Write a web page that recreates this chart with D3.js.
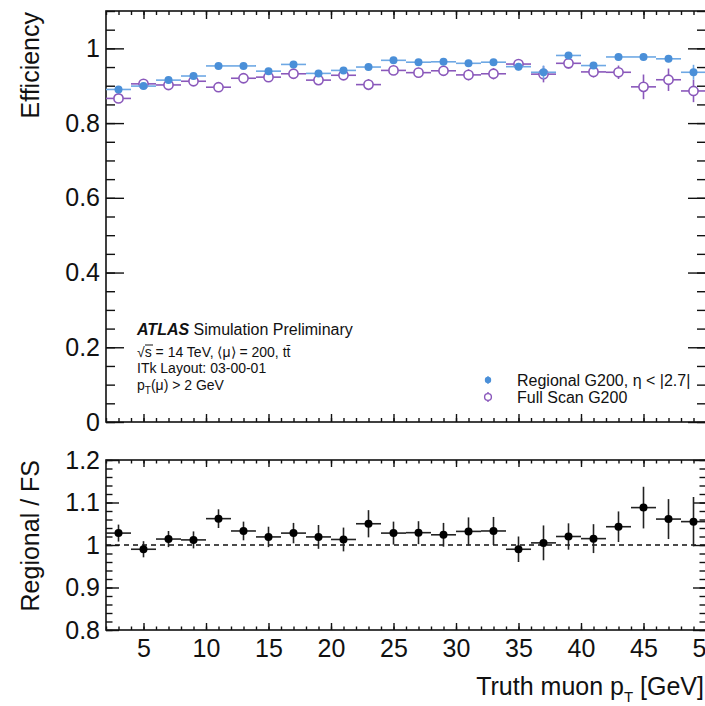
<!DOCTYPE html>
<html>
<head>
<meta charset="utf-8">
<script src="https://cdn.jsdelivr.net/npm/d3@7"></script>
<style>
  body { margin: 0; background: #fff; }
  svg { display: block; font-family: "Liberation Sans", Arial, Helvetica, sans-serif; }
</style>
</head>
<body>
<svg id="chart" width="705" height="706"></svg>
<script>
// bins of truth muon pT, 2 GeV wide
var binCenters = [3, 5, 7, 9, 11, 13, 15, 17, 19, 21, 23, 25, 27, 29, 31, 33, 35, 37, 39, 41, 43, 45, 47, 49];
var binHalf = 1;

var regionalEff = [0.890, 0.899, 0.915, 0.926, 0.953, 0.953, 0.939, 0.957, 0.933, 0.941, 0.950, 0.968,
                   0.963, 0.964, 0.960, 0.963, 0.951, 0.936, 0.981, 0.954, 0.977, 0.977, 0.972, 0.936];
var regionalErr = [0.005, 0.005, 0.005, 0.006, 0.005, 0.006, 0.006, 0.006, 0.007, 0.007, 0.007, 0.006,
                   0.006, 0.006, 0.006, 0.007, 0.010, 0.018, 0.008, 0.008, 0.008, 0.008, 0.009, 0.020];

var fullScanEff = [0.866, 0.905, 0.902, 0.912, 0.896, 0.920, 0.923, 0.932, 0.915, 0.928, 0.903, 0.941,
                   0.935, 0.940, 0.929, 0.932, 0.958, 0.931, 0.960, 0.937, 0.936, 0.897, 0.916, 0.886];
var fullScanErr = [0.008, 0.008, 0.008, 0.010, 0.012, 0.012, 0.012, 0.012, 0.012, 0.012, 0.015, 0.012,
                   0.013, 0.013, 0.015, 0.015, 0.013, 0.022, 0.014, 0.015, 0.018, 0.033, 0.030, 0.030];

var ratioVal = [1.028, 0.990, 1.014, 1.012, 1.062, 1.033, 1.019, 1.028, 1.019, 1.013, 1.050, 1.028,
                1.029, 1.024, 1.032, 1.033, 0.990, 1.005, 1.020, 1.015, 1.043, 1.088, 1.061, 1.055];
var ratioErr = [0.020, 0.019, 0.019, 0.020, 0.022, 0.022, 0.024, 0.024, 0.028, 0.028, 0.032, 0.027,
                0.027, 0.028, 0.033, 0.033, 0.030, 0.041, 0.031, 0.034, 0.036, 0.049, 0.047, 0.058];

var effTicks = [0, 0.2, 0.4, 0.6, 0.8, 1];
var ratioTicks = [0.8, 0.9, 1, 1.1, 1.2];
var ptTicks = [5, 10, 15, 20, 25, 30, 35, 40, 45, 50];

var blue = "#4a8fd8", blueLine = "#6ea8e4", purple = "#8a58bb";

var svg = d3.select("#chart");

var left = 106, right = 706;
var x = d3.scaleLinear().domain([2, 50]).range([left, right]);
var yTop = d3.scaleLinear().domain([0, 1.1]).range([422, 11]);
var yBot = d3.scaleLinear().domain([0.8, 1.2]).range([630, 460]);

function minorTicks(lo, hi, step) {
    var out = [];
    var n = Math.round((hi - lo) / step);
    for (var i = 0; i <= n; i++) out.push(+(lo + i * step).toFixed(4));
    return out;
}

// draws a ROOT-like frame with inward ticks on all four sides
function frame(y, yMajor, yMinorStep, yLen, xLen, showXLabels) {
    var y0 = y.range()[0], y1 = y.range()[1];
    var d = y.domain();
    var g = svg.append("g");

    var styleAxis = function(sel) {
        sel.select(".domain").remove();
        sel.selectAll("line").attr("stroke", "#111").attr("stroke-width", 1.4);
        sel.selectAll("text").attr("fill", "#111").style("font-size", "25px");
    };

    var yMinor = minorTicks(d[0], d[1], yMinorStep);
    var xMinor = minorTicks(2, 50, 1);

    // left
    g.append("g").attr("transform", "translate(" + left + ",0)")
        .call(d3.axisLeft(y).tickValues(yMinor).tickSize(-yLen / 2).tickFormat(""))
        .call(styleAxis);
    g.append("g").attr("transform", "translate(" + left + ",0)")
        .call(d3.axisLeft(y).tickValues(yMajor).tickSize(-yLen).tickPadding(6)
              .tickFormat(function(v) { return d3.format("~g")(v); }))
        .call(styleAxis);
    // right
    g.append("g").attr("transform", "translate(" + right + ",0)")
        .call(d3.axisRight(y).tickValues(yMinor).tickSize(-yLen / 2).tickFormat(""))
        .call(styleAxis);
    g.append("g").attr("transform", "translate(" + right + ",0)")
        .call(d3.axisRight(y).tickValues(yMajor).tickSize(-yLen).tickFormat(""))
        .call(styleAxis);
    // bottom
    g.append("g").attr("transform", "translate(0," + y0 + ")")
        .call(d3.axisBottom(x).tickValues(xMinor).tickSize(-xLen / 2).tickFormat(""))
        .call(styleAxis);
    var bx = g.append("g").attr("transform", "translate(0," + y0 + ")")
        .call(d3.axisBottom(x).tickValues(ptTicks).tickSize(-xLen).tickPadding(9)
              .tickFormat(showXLabels ? d3.format("d") : ""))
        .call(styleAxis);
    bx.selectAll("text").attr("dy", "0.71em");
    // top
    g.append("g").attr("transform", "translate(0," + y1 + ")")
        .call(d3.axisTop(x).tickValues(xMinor).tickSize(-xLen / 2).tickFormat(""))
        .call(styleAxis);
    g.append("g").attr("transform", "translate(0," + y1 + ")")
        .call(d3.axisTop(x).tickValues(ptTicks).tickSize(-xLen).tickFormat(""))
        .call(styleAxis);

    g.append("rect").attr("x", left).attr("y", y1)
        .attr("width", right - left).attr("height", y0 - y1)
        .attr("fill", "none").attr("stroke", "#111").attr("stroke-width", 1.6);
}

frame(yTop, effTicks, 0.05, 18, 8, false);
frame(yBot, ratioTicks, 0.02, 13, 7, true);

// error bar helper
function errorBars(g, y, vals, errs, color, width) {
    g.selectAll(null).data(binCenters).enter().append("line")
        .attr("x1", function(d) { return x(d - binHalf); })
        .attr("x2", function(d) { return x(d + binHalf); })
        .attr("y1", function(d, i) { return y(vals[i]); })
        .attr("y2", function(d, i) { return y(vals[i]); })
        .attr("stroke", color).attr("stroke-width", width);
    g.selectAll(null).data(binCenters).enter().append("line")
        .attr("x1", function(d) { return x(d); })
        .attr("x2", function(d) { return x(d); })
        .attr("y1", function(d, i) { return y(vals[i] - errs[i]); })
        .attr("y2", function(d, i) { return y(vals[i] + errs[i]); })
        .attr("stroke", color).attr("stroke-width", width);
}

// full scan (open circles)
var gFS = svg.append("g");
errorBars(gFS, yTop, fullScanEff, fullScanErr, purple, 1.6);
gFS.selectAll("circle").data(binCenters).enter().append("circle")
    .attr("cx", function(d) { return x(d); })
    .attr("cy", function(d, i) { return yTop(fullScanEff[i]); })
    .attr("r", 4.6).attr("fill", "#fff").attr("stroke", purple).attr("stroke-width", 1.6);

// regional (filled circles)
var gR = svg.append("g");
errorBars(gR, yTop, regionalEff, regionalErr, blueLine, 1.6);
gR.selectAll("circle").data(binCenters).enter().append("circle")
    .attr("cx", function(d) { return x(d); })
    .attr("cy", function(d, i) { return yTop(regionalEff[i]); })
    .attr("r", 4).attr("fill", blue);

// ratio panel
svg.append("line")
    .attr("x1", left).attr("x2", right)
    .attr("y1", yBot(1)).attr("y2", yBot(1))
    .attr("stroke", "#111").attr("stroke-width", 1.3).attr("stroke-dasharray", "5,4");

var gRatio = svg.append("g");
errorBars(gRatio, yBot, ratioVal, ratioErr, "#222", 1.6);
gRatio.selectAll("circle").data(binCenters).enter().append("circle")
    .attr("cx", function(d) { return x(d); })
    .attr("cy", function(d, i) { return yBot(ratioVal[i]); })
    .attr("r", 4).attr("fill", "#000");

// axis titles
svg.append("text")
    .attr("transform", "translate(39,12) rotate(-90)")
    .attr("text-anchor", "end").style("font-size", "25px").attr("fill", "#111")
    .text("Efficiency");
svg.append("text")
    .attr("transform", "translate(39,460) rotate(-90)")
    .attr("text-anchor", "end").style("font-size", "25px").attr("fill", "#111")
    .text("Regional / FS");

var xt = svg.append("text")
    .attr("x", 704).attr("y", 695)
    .attr("text-anchor", "end").style("font-size", "25px").attr("fill", "#111");
xt.append("tspan").text("Truth muon p");
xt.append("tspan").attr("dy", 7).style("font-size", "15px").text("T");
xt.append("tspan").attr("dy", -7).text(" [GeV]");

// ATLAS label
var lab = svg.append("g").attr("fill", "#111");
var l1 = lab.append("text").attr("x", 137).attr("y", 335).style("font-size", "16px");
l1.append("tspan").style("font-weight", "bold").style("font-style", "italic").text("ATLAS");
l1.append("tspan").text(" Simulation Preliminary");

var l2 = lab.append("text").attr("x", 137).attr("y", 357).style("font-size", "14px");
l2.append("tspan").text("\u221As");
l2.append("tspan").text(" = 14 TeV, \u27E8\u03BC\u27E9 = 200, t");
l2.append("tspan").text("t\u0304");
lab.append("line")
    .attr("x1", 145).attr("x2", 153).attr("y1", 345).attr("y2", 345)
    .attr("stroke", "#111").attr("stroke-width", 1);

lab.append("text").attr("x", 137).attr("y", 373).style("font-size", "14px")
    .text("ITk Layout: 03-00-01");

var l4 = lab.append("text").attr("x", 137).attr("y", 390).style("font-size", "14px");
l4.append("tspan").text("p");
l4.append("tspan").attr("dy", 4).style("font-size", "10px").text("T");
l4.append("tspan").attr("dy", -4).text("(\u03BC) > 2 GeV");

// legend
var leg = svg.append("g");
leg.append("line").attr("x1", 488).attr("x2", 488).attr("y1", 376).attr("y2", 384)
    .attr("stroke", blueLine).attr("stroke-width", 1.4);
leg.append("circle").attr("cx", 488).attr("cy", 380).attr("r", 3.2).attr("fill", blue);
leg.append("line").attr("x1", 488).attr("x2", 488).attr("y1", 392).attr("y2", 402)
    .attr("stroke", purple).attr("stroke-width", 1.4);
leg.append("circle").attr("cx", 488).attr("cy", 397).attr("r", 3.4)
    .attr("fill", "#fff").attr("stroke", purple).attr("stroke-width", 1.4);

var t1 = leg.append("text").attr("x", 517).attr("y", 386).style("font-size", "16px").attr("fill", "#111");
t1.append("tspan").text("Regional G200, ");
t1.append("tspan").text("\u03B7 < |2.7|");
leg.append("text").attr("x", 517).attr("y", 403).style("font-size", "16px").attr("fill", "#111")
    .text("Full Scan G200");
</script>
</body>
</html>
